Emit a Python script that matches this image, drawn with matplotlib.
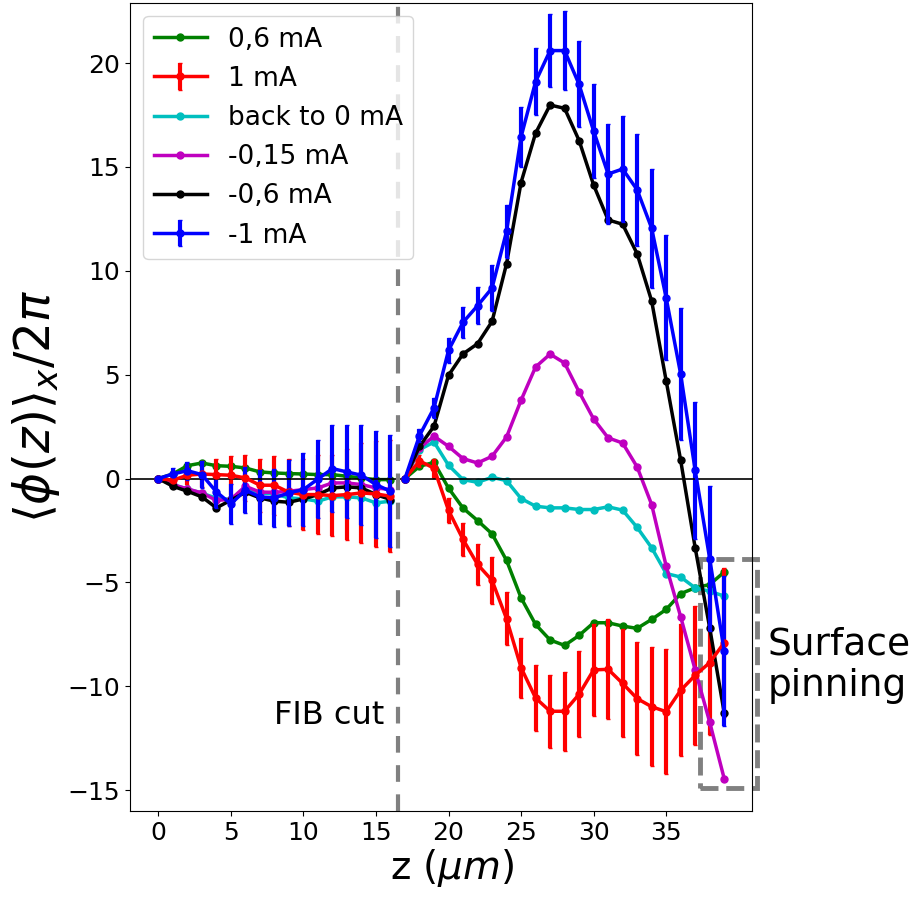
import numpy as np
import matplotlib
matplotlib.use('Agg')
import matplotlib.pyplot as plt
from matplotlib.patches import Rectangle

# z positions (um): before and after the FIB cut
z_left = list(range(0, 17))
z_right = list(range(17, 40))

# 0,6 mA
green_left = [0, 0.22, 0.62, 0.75, 0.62, 0.59, 0.51, 0.32, 0.27, 0.24, 0.22, 0.19, 0.19, 0.11, 0.03, -0.05, -0.05]
green_right = [0, 0.59, 0.78, -0.46, -1.42, -2.02, -2.66, -3.94, -5.74, -7.02, -7.77, -8.03, -7.55, -6.94,
               -6.94, -7.1, -7.21, -6.78, -6.3, -5.54, -5.26, -5.1, -4.5]

# 1 mA (with error bars)
red_left = [0, -0.08, 0.16, 0.22, 0.19, 0.16, 0.03, -0.32, -0.32, -0.66, -0.77, -0.77, -0.82, -0.77, -0.69, -0.74, -0.85]
red_right = [0, 0.85, 0.5, -1.53, -2.93, -4.13, -4.9, -6.75, -9.1, -10.56, -11.2, -11.2, -10.38, -9.21,
             -9.18, -9.86, -10.59, -10.98, -11.22, -10.19, -9.47, -8.86, -7.9]
red_err_left = [0, 0.3, 0.45, 0.64, 0.77, 0.93, 1.1, 1.28, 1.43, 1.6, 1.72, 1.9, 1.96, 2.2, 2.4, 2.56, 2.7]
red_err_right = [0, 0.3, 0.45, 0.6, 0.78, 0.98, 1.12, 1.28, 1.44, 1.6, 1.76, 1.9, 2.08, 2.2,
                 2.4, 2.6, 2.72, 2.87, 3.0, 3.18, 3.35, 3.5, 3.6]

# back to 0 mA
cyan_left = [0, -0.3, -0.5, -0.7, -0.95, -1.0, -0.53, -0.69, -0.74, -0.93, -0.98, -1.09, -0.88, -0.88, -0.93, -1.17, -1.09]
cyan_right = [0, 1.39, 1.76, 0.64, -0.05, -0.18, 0.06, -0.1, -0.96, -1.33, -1.41, -1.41, -1.49, -1.49,
              -1.36, -1.52, -2.35, -3.33, -4.57, -4.74, -5.26, -5.42, -5.66]

# -0,15 mA
magenta_left = [0, -0.29, -0.5, -0.69, -1.05, -1.0, -0.37, -0.65, -0.66, -0.61, -0.53, -0.45, -0.21, -0.21, -0.29, -0.45, -0.53]
magenta_right = [0, 1.47, 2.04, 1.55, 0.96, 0.75, 1.07, 2.0, 3.77, 5.37, 5.99, 5.56, 4.17, 2.87,
                 1.96, 1.71, 0.56, -1.25, -4.21, -6.65, -9.21, -11.72, -14.44]

# -0,6 mA
black_left = [0, -0.37, -0.61, -0.88, -1.41, -1.04, -0.66, -0.93, -1.09, -1.14, -0.98, -0.77, -0.45, -0.4, -0.45, -0.77, -1.01]
black_right = [0, 1.55, 2.52, 4.97, 6.0, 6.49, 7.56, 10.34, 14.25, 16.62, 17.98, 17.82, 16.27, 14.13,
               12.45, 12.24, 10.82, 8.55, 4.71, 0.88, -3.33, -7.18, -11.27]

# -1 mA (with error bars)
blue_left = [0, 0.22, 0.38, 0.19, -0.64, -1.22, -0.56, -0.88, -0.93, -0.69, -0.53, -0.02, 0.48, 0.32, 0.16, -0.29, -0.61]
blue_right = [0, 2.07, 3.4, 6.17, 7.52, 8.32, 9.17, 11.9, 16.44, 19.1, 20.6, 20.6, 18.97, 16.73,
              14.66, 14.9, 13.9, 12.05, 8.7, 5.03, 0.4, -3.85, -8.3]
blue_err_left = [0, 0.3, 0.43, 0.64, 0.8, 0.96, 1.1, 1.3, 1.4, 1.6, 1.76, 1.9, 2.08, 2.24, 2.4, 2.56, 2.7]
blue_err_right = [0, 0.3, 0.5, 0.6, 0.75, 0.9, 1.1, 1.28, 1.43, 1.6, 1.76, 1.92, 2.07, 2.24,
                  2.4, 2.56, 2.7, 2.86, 3.0, 3.17, 3.3, 3.5, 3.6]

labels = ['0,6 mA', '1 mA', 'back to 0 mA', '-0,15 mA', '-0,6 mA', '-1 mA']

fig = plt.figure(figsize=(9.17, 9.0), dpi=100)
ax = fig.add_axes([0.1418, 0.0989, 0.678, 0.898])

lw = 2.5
ms = 5

def pair(zl, zr, yl, yr, color, label, el=None, er=None):
    if el is None:
        ax.plot(zl, yl, '-o', color=color, lw=lw, ms=ms, label=label)
        ax.plot(zr, yr, '-o', color=color, lw=lw, ms=ms)
    else:
        ax.errorbar(zl, yl, yerr=el, fmt='-o', color=color, lw=lw, ms=ms,
                    elinewidth=3, capsize=1.5, label=label)
        ax.errorbar(zr, yr, yerr=er, fmt='-o', color=color, lw=lw, ms=ms,
                    elinewidth=3, capsize=1.5)

pair(z_left, z_right, green_left, green_right, 'g', labels[0])
pair(z_left, z_right, red_left, red_right, 'r', labels[1], red_err_left, red_err_right)
pair(z_left, z_right, cyan_left, cyan_right, 'c', labels[2])
pair(z_left, z_right, magenta_left, magenta_right, 'm', labels[3])
pair(z_left, z_right, black_left, black_right, 'k', labels[4])
pair(z_left, z_right, blue_left, blue_right, 'b', labels[5], blue_err_left, blue_err_right)

ax.axhline(0, color='k', lw=1.2)
ax.axvline(16.5, color='gray', lw=3, ls='--', dashes=(4, 3))

box = Rectangle((37.3, -14.9), 3.95, 11.05, fill=False, edgecolor='gray', lw=3.5,
                ls='--', clip_on=False)
ax.add_patch(box)

ax.text(15.6, -11.4, 'FIB cut', fontsize=23, ha='right', va='center')
ax.text(42.0, -9.0, 'Surface\npinning', fontsize=27, ha='left', va='center')

ax.set_xlim(-1.95, 40.9)
ax.set_ylim(-16.0, 22.9)
ax.set_xticks([0, 5, 10, 15, 20, 25, 30, 35])
ax.set_yticks([-15, -10, -5, 0, 5, 10, 15, 20])
ax.tick_params(labelsize=18)
ax.set_xlabel(r'z ($\mu m$)', fontsize=28)
ax.xaxis.set_label_coords(0.518, -0.045, transform=ax.transAxes)
ax.xaxis.label.set_va('top')
ax.set_ylabel(r'$\langle \phi(z) \rangle_x / 2\pi$', fontsize=35)

# legend in the original order (errorbar entries would otherwise go last)
handles, labs = ax.get_legend_handles_labels()
order = [labs.index(l) for l in labels]
ax.legend([handles[i] for i in order], labels, loc='upper left', fontsize=19)

plt.savefig('out.png', dpi=100)
